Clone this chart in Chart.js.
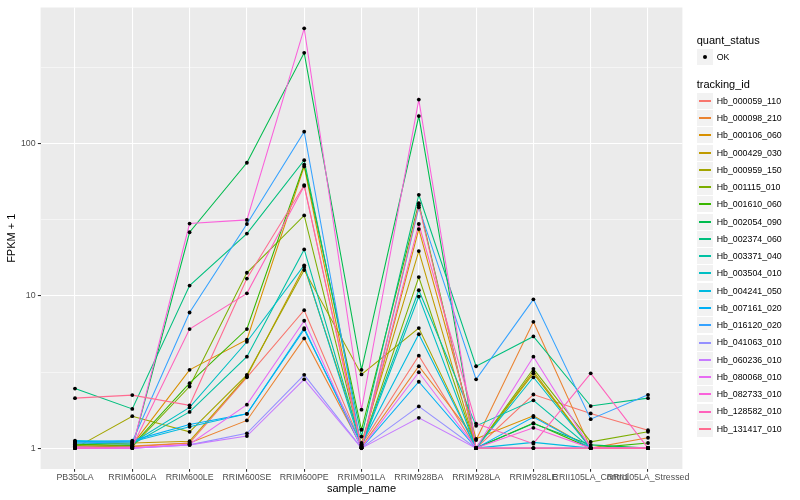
<!DOCTYPE html>
<html><head><meta charset="utf-8">
<script src="https://cdn.jsdelivr.net/npm/chart.js@4.4.0/dist/chart.umd.min.js"></script>
<style>
html,body{margin:0;padding:0;background:#fff;}
#wrap{position:relative;width:800px;height:500px;font-family:"Liberation Sans",Arial,Helvetica,sans-serif;overflow:hidden;}
#c{position:absolute;left:0;top:0;}
.t{position:absolute;white-space:nowrap;color:#000;}
.key{position:absolute;background:#F2F2F2;}
.kl{position:absolute;}
.kd{position:absolute;background:#000;border-radius:50%;}
</style></head><body>
<div id="wrap"><canvas id="c" width="800" height="500"></canvas><div id="legend"></div></div>
<script>
// ---- data ----
const categories = ["PB350LA","RRIM600LA","RRIM600LE","RRIM600SE","RRIM600PE","RRIM901LA","RRIM928BA","RRIM928LA","RRIM928LE","RRII105LA_Control","RRII105LA_Stressed"];
const trackingIds = ["Hb_000059_110","Hb_000098_210","Hb_000106_060","Hb_000429_030","Hb_000959_150","Hb_001115_010","Hb_001610_060","Hb_002054_090","Hb_002374_060","Hb_003371_040","Hb_003504_010","Hb_004241_050","Hb_007161_020","Hb_016120_020","Hb_041063_010","Hb_060236_010","Hb_080068_010","Hb_082733_010","Hb_128582_010","Hb_131417_010"];
const seriesColors = ["#F8766D","#EA8331","#D89000","#C09B00","#A3A500","#7CAE00","#39B600","#00BB4E","#00BF7D","#00C1A3","#00BFC4","#00BAE0","#00B0F6","#35A2FF","#9590FF","#C77CFF","#E76BF3","#FA62DB","#FF62BC","#FF6C91"];
const yMajorTicks = [1, 10, 100];
const yMinorTicks = [3.1623, 31.623, 316.23];

// FPKM + 1 per sample, one array per tracking_id
const Hb_000059_110 = [1.03, 1.02, 1.08, 2.92, 8.06, 1.05, 4.05, 1.00, 2.25, 1.69, 1.31];
const Hb_000098_210 = [1.00, 1.03, 1.08, 1.52, 5.26, 1.02, 3.45, 1.13, 6.76, 1.00, 1.17];
const Hb_000106_060 = [1.02, 1.05, 3.27, 5.16, 71.0, 1.00, 27.5, 1.15, 1.63, 1.00, 1.00];
const Hb_000429_030 = [1.05, 1.08, 1.11, 2.97, 15.5, 1.08, 19.7, 1.00, 3.19, 1.00, 1.00];
const Hb_000959_150 = [1.00, 1.62, 1.28, 3.03, 14.8, 3.05, 6.15, 1.00, 3.10, 1.00, 1.00];
const Hb_001115_010 = [1.04, 1.02, 2.54, 14.2, 33.8, 1.03, 13.3, 1.00, 3.32, 1.10, 1.28];
const Hb_001610_060 = [1.06, 1.04, 2.67, 6.06, 73.0, 1.32, 40.7, 1.00, 1.46, 1.00, 1.08];
const Hb_002054_090 = [1.00, 1.00, 26.2, 75.0, 396, 3.27, 152, 1.00, 1.45, 1.05, 1.00];
const Hb_002374_060 = [2.46, 1.81, 11.7, 25.7, 78.0, 1.19, 46.2, 3.45, 5.42, 1.89, 2.13];
const Hb_003371_040 = [1.08, 1.06, 1.73, 3.99, 20.2, 1.04, 10.9, 1.40, 2.06, 1.00, 1.00];
const Hb_003504_010 = [1.10, 1.08, 1.85, 5.00, 15.9, 1.02, 9.90, 1.00, 2.92, 1.00, 1.00];
const Hb_004241_050 = [1.12, 1.10, 1.38, 1.68, 6.02, 1.06, 5.60, 1.00, 1.09, 1.00, 1.00];
const Hb_007161_020 = [1.10, 1.12, 1.43, 1.68, 6.15, 1.00, 2.73, 1.00, 1.60, 1.00, 1.00];
const Hb_016120_020 = [1.08, 1.10, 7.78, 29.7, 120, 1.00, 38.2, 2.83, 9.50, 1.55, 2.24];
const Hb_041063_010 = [1.00, 1.00, 1.05, 1.25, 3.03, 1.00, 1.88, 1.00, 1.00, 1.00, 1.00];
const Hb_060236_010 = [1.00, 1.00, 1.05, 1.20, 2.83, 1.00, 1.58, 1.00, 1.00, 1.00, 1.00];
const Hb_080068_010 = [1.02, 1.00, 1.06, 1.93, 6.87, 1.00, 3.15, 1.00, 3.99, 1.00, 1.00];
const Hb_082733_010 = [1.00, 1.00, 29.9, 31.6, 573, 1.79, 195, 1.00, 1.36, 1.00, 1.00];
const Hb_128582_010 = [1.00, 1.02, 6.06, 10.4, 52.8, 1.00, 29.7, 1.45, 1.07, 3.10, 1.00];
const Hb_131417_010 = [2.13, 2.23, 1.91, 13.0, 53.5, 1.00, 39.4, 1.00, 1.00, 1.00, 1.00];

const seriesValues = [Hb_000059_110,Hb_000098_210,Hb_000106_060,Hb_000429_030,Hb_000959_150,Hb_001115_010,Hb_001610_060,Hb_002054_090,Hb_002374_060,Hb_003371_040,Hb_003504_010,Hb_004241_050,Hb_007161_020,Hb_016120_020,Hb_041063_010,Hb_060236_010,Hb_080068_010,Hb_082733_010,Hb_128582_010,Hb_131417_010];

// ---- layout constants (ggplot-like) ----
const W = 800, H = 500;
const PANEL = {left: 40.6, right: 682.4, top: 5, bottom: 469};
const LOG_MIN = Math.pow(10, -0.1373), LOG_MAX = Math.pow(10, 2.8954);
const FONT = '"Liberation Sans", Arial, Helvetica, sans-serif';

const datasets = [];
seriesValues.forEach((vals, si) => {
  datasets.push({
    type: 'line',
    label: trackingIds[si],
    data: vals.map((v, i) => ({x: i, y: v})),
    borderColor: seriesColors[si],
    backgroundColor: seriesColors[si],
    borderWidth: 1.07,
    pointRadius: 0,
    tension: 0,
    fill: false,
    order: 100 - si
  });
});
const allPoints = [];
seriesValues.forEach(vals => vals.forEach((v, i) => allPoints.push({x: i, y: v})));
datasets.push({
  type: 'scatter',
  label: 'OK',
  data: allPoints,
  showLine: false,
  pointRadius: 1.9,
  pointBackgroundColor: '#000',
  pointBorderWidth: 0,
  order: 0
});

const panelBg = {
  id: 'panelBg',
  beforeDraw(chart) {
    const {ctx, chartArea: a} = chart;
    ctx.save();
    ctx.fillStyle = '#EBEBEB';
    ctx.fillRect(a.left, a.top, a.right - a.left, a.bottom - a.top);
    ctx.restore();
  }
};

const isMajorY = v => yMajorTicks.some(m => Math.abs(m - v) < 1e-6);

new Chart(document.getElementById('c'), {
  data: {datasets},
  options: {
    responsive: false,
    animation: false,
    devicePixelRatio: 1,
    layout: {padding: {left: 0, top: PANEL.top, right: W - PANEL.right, bottom: 0}},
    plugins: {legend: {display: false}, tooltip: {enabled: false}},
    scales: {
      x: {
        type: 'linear',
        min: -0.6, max: categories.length - 1 + 0.6,
        bounds: 'data',
        afterBuildTicks: s => { s.ticks = categories.map((_, i) => ({value: i})); },
        afterFit: s => { s.height = H - PANEL.bottom; },
        border: {display: false},
        grid: {color: '#FFFFFF', lineWidth: 1.07, tickLength: 2.75, tickColor: '#333333', tickWidth: 1.07},
        ticks: {
          autoSkip: false, maxRotation: 0, minRotation: 0, padding: 1,
          color: '#4D4D4D', font: {family: FONT, size: 8.8},
          callback: v => categories[v]
        },
        title: {display: true, text: 'sample_name', color: '#000', font: {family: FONT, size: 11}, padding: {top: 0, bottom: 4.4}}
      },
      y: {
        type: 'logarithmic',
        min: LOG_MIN, max: LOG_MAX,
        bounds: 'data',
        afterBuildTicks: s => {
          s.ticks = [...yMajorTicks, ...yMinorTicks].sort((a, b) => a - b).map(v => ({value: v}));
        },
        afterFit: s => { s.width = PANEL.left; },
        border: {display: false},
        grid: {
          color: '#FFFFFF',
          lineWidth: c => isMajorY(c.tick.value) ? 1.07 : 0.53,
          tickLength: 2.75,
          tickColor: c => isMajorY(c.tick.value) ? '#333333' : 'rgba(0,0,0,0)',
          tickWidth: 1.07
        },
        ticks: {
          autoSkip: false, padding: 2.2,
          color: '#4D4D4D', font: {family: FONT, size: 8.8},
          callback: v => isMajorY(v) ? String(Math.round(v)) : ''
        },
        title: {display: true, text: 'FPKM + 1', color: '#000', font: {family: FONT, size: 11}, padding: {top: 5.4, bottom: 0}}
      }
    }
  },
  plugins: [panelBg]
});

// ---- HTML legend (ggplot-style) ----
const lg = document.getElementById('legend');
const KEY = 17.28, KX = 696.7, TX = 716.7;
function addText(txt, x, cy, size) {
  const d = document.createElement('div');
  d.className = 't';
  d.textContent = txt;
  d.style.left = x + 'px';
  d.style.top = (cy - size * 0.6) + 'px';
  d.style.fontSize = size + 'px';
  d.style.lineHeight = (size * 1.2) + 'px';
  lg.appendChild(d);
}
function addKey(cy) {
  const k = document.createElement('div');
  k.className = 'key';
  k.style.left = Math.round(KX) + 'px';
  k.style.top = Math.round(cy - KEY / 2 + 0.5) + 'px';
  k.style.width = '16px';
  k.style.height = '16px';
  lg.appendChild(k);
}
addText('quant_status', KX, 40.7, 11);
addKey(57);
const dot = document.createElement('div');
dot.className = 'kd';
dot.style.left = (Math.round(KX) + 6) + 'px';
dot.style.top = (Math.round(57 - KEY / 2 + 0.5) + 6) + 'px';
dot.style.width = '4px'; dot.style.height = '4px';
lg.appendChild(dot);
addText('OK', TX, 57, 8.8);
addText('tracking_id', KX, 84.3, 11);
trackingIds.forEach((id, i) => {
  const cy = 101 + 17.26 * i;
  addKey(cy);
  const l = document.createElement('div');
  l.className = 'kl';
  l.style.left = (Math.round(KX) + 2) + 'px';
  l.style.top = Math.round(cy - KEY / 2 + 0.5) + 7 + 'px';
  l.style.width = '12px';
  l.style.height = '2px';
  l.style.background = seriesColors[i];
  lg.appendChild(l);
  addText(id, TX, cy, 8.8);
});
</script>
</body></html>
